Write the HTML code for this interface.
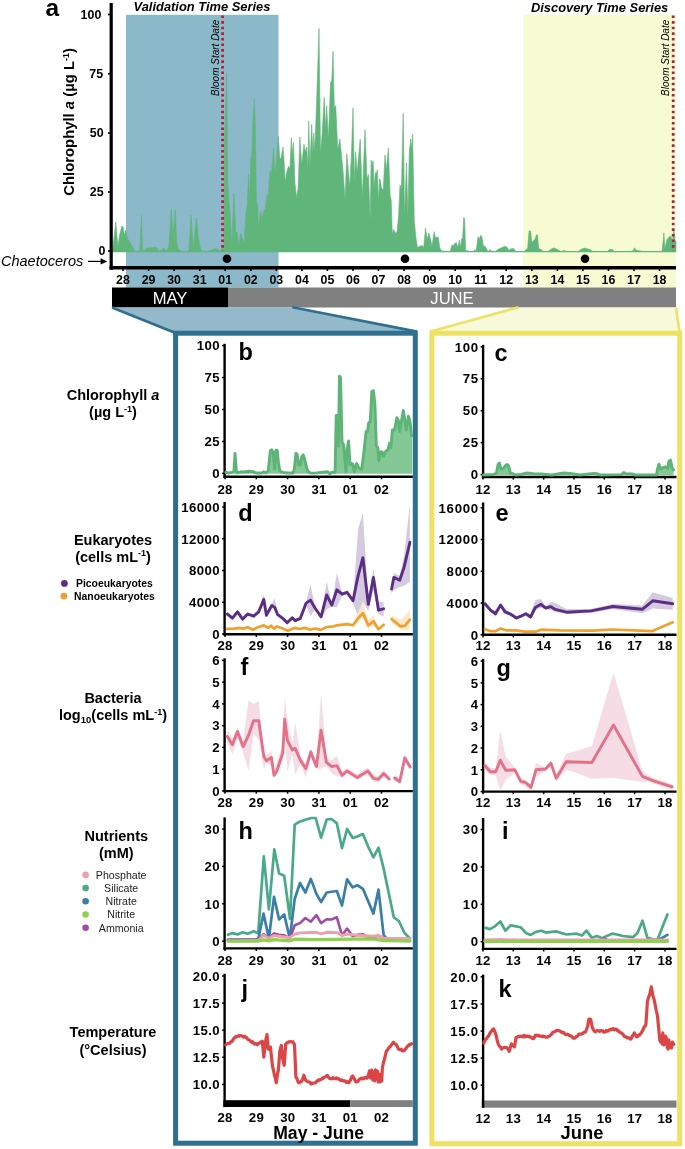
<!DOCTYPE html>
<html><head><meta charset="utf-8"><style>
html,body{margin:0;padding:0;background:#fff;}
body{width:685px;height:1149px;overflow:hidden;font-family:"Liberation Sans", sans-serif;}
svg{display:block;will-change:transform;}
</style></head><body>
<svg width="685" height="1149" viewBox="0 0 685 1149" font-family='"Liberation Sans", sans-serif'>
<rect width="685" height="1149" fill="#fff"/>
<rect x="126" y="14.8" width="152.5" height="272.7" fill="#8bb9c9"/>
<rect x="523" y="14.8" width="153" height="272.7" fill="#f6fbd2"/>
<polygon points="112.5,251.5 113.0,246.5 115.8,222.0 117.9,246.5 119.6,235.0 121.9,226.0 123.1,227.0 124.4,235.0 125.8,230.0 127.5,238.6 131.0,243.9 133.6,249.0 135.4,251.4 139.8,251.0 141.5,215.3 142.6,251.4 145.0,250.0 146.8,248.3 152.0,247.7 155.5,247.0 157.3,249.0 159.0,251.4 164.3,248.0 165.7,251.4 168.7,247.4 171.3,208.8 173.0,235.0 175.3,209.7 176.6,242.0 178.3,249.0 180.0,250.0 181.8,251.4 188.8,251.4 191.1,215.3 193.2,249.0 194.6,234.0 196.4,217.6 198.5,238.6 200.2,247.4 202.0,251.4 208.0,251.0 215.0,248.8 217.7,249.0 219.5,251.4 222.0,249.0 223.9,245.6 224.3,145.0 226.6,73.0 227.8,181.8 228.7,199.0 230.4,216.7 231.7,248.0 233.9,193.0 235.7,232.0 237.4,233.0 238.8,248.0 240.5,233.0 244.1,243.4 245.9,214.0 247.3,204.6 248.6,174.0 249.4,204.6 250.8,157.6 251.7,156.4 252.7,125.0 254.3,99.0 255.3,125.0 256.4,202.2 257.6,204.6 258.4,228.1 260.6,211.1 262.3,218.7 263.5,211.1 265.3,209.3 266.8,195.2 268.2,195.2 270.0,170.5 271.5,174.0 273.5,148.2 275.0,174.0 276.6,158.8 278.4,136.4 279.7,157.6 281.1,158.8 282.9,147.0 283.7,155.2 285.2,182.3 286.4,172.9 288.5,166.4 289.9,168.2 291.4,137.6 292.3,155.2 293.4,142.3 295.0,183.4 296.6,197.5 298.1,188.1 299.9,137.0 301.7,164.6 304.0,144.1 305.2,151.7 306.7,147.0 307.9,168.2 308.7,121.2 310.0,166.0 311.7,124.4 312.8,153.7 313.8,132.8 314.8,151.6 316.9,93.0 319.0,28.4 320.5,153.7 322.2,132.8 324.2,97.3 325.7,128.6 326.7,105.6 328.4,139.0 330.5,82.7 331.8,80.6 333.0,51.3 334.3,107.7 335.7,105.6 337.8,149.5 339.9,139.0 343.0,170.4 345.1,199.6 346.8,153.7 348.3,170.4 349.7,187.0 351.4,155.8 353.0,107.7 354.5,183.0 355.6,151.6 357.2,172.5 360.2,139.0 362.3,197.5 365.0,129.7 367.0,178.7 368.5,174.6 370.2,220.5 371.1,159.9 372.1,165.5 373.1,160.6 374.2,189.0 375.3,172.4 376.3,173.8 377.4,169.6 378.4,201.7 379.5,178.7 380.5,180.8 381.4,187.7 383.2,190.5 385.0,155.0 386.4,169.6 388.4,148.0 390.2,196.1 391.2,200.3 392.3,233.7 393.7,229.5 395.8,233.7 397.2,231.0 398.6,215.6 400.0,185.0 401.4,189.0 403.2,113.2 404.6,215.6 406.5,162.7 407.9,215.6 409.3,151.5 410.7,139.0 411.5,148.7 412.6,134.1 414.3,221.2 416.0,237.9 417.4,247.6 419.5,246.2 422.3,245.5 423.7,247.6 425.5,228.1 427.1,239.3 428.8,233.0 429.9,236.5 432.0,246.2 434.1,231.6 435.5,237.9 436.9,237.2 438.3,237.2 439.7,247.6 441.6,251.0 450.2,251.5 451.8,245.2 453.1,245.8 455.1,243.2 456.4,242.6 457.7,247.8 459.4,240.0 460.4,247.8 461.7,238.6 462.6,239.3 463.7,217.6 464.6,218.2 465.6,250.4 467.6,250.7 469.6,251.5 473.5,251.5 474.8,249.8 476.1,251.0 478.1,236.6 479.4,239.3 480.7,235.3 481.8,236.6 483.4,245.8 485.3,246.5 487.3,250.4 488.6,251.5 489.9,249.4 491.2,251.0 495.2,251.5 498.5,249.1 505.0,246.2 507.0,247.2 509.0,250.4 510.3,248.9 513.6,248.5 514.9,250.4 516.2,251.5 524.1,251.5 526.7,249.1 527.6,249.0 529.1,231.0 530.7,231.0 531.7,242.6 534.0,240.3 535.2,239.1 536.4,234.8 537.5,235.0 538.7,248.5 541.0,249.6 543.4,251.5 548.0,251.5 550.4,249.6 553.9,247.9 557.4,249.6 560.9,251.5 564.4,250.5 566.7,251.5 578.4,251.5 580.7,249.6 584.2,248.1 590.0,249.6 593.0,251.5 607.4,251.5 609.3,249.4 612.4,249.6 614.3,251.5 631.0,251.5 633.5,250.3 634.5,247.8 636.0,250.3 639.7,250.8 642.8,251.5 662.0,251.5 663.3,239.7 663.9,232.9 664.8,248.4 667.0,239.7 668.9,237.2 670.7,236.0 672.6,241.0 673.8,228.5 675.0,241.0 676.0,241.0 676.0,251.5" fill="#60b57a" stroke="#60b57a" stroke-width="0.6" stroke-linejoin="round"/>
<line x1="112.5" y1="251.6" x2="676" y2="251.6" stroke="#60b57a" stroke-width="1.2"/>
<line x1="222.6" y1="15.5" x2="222.6" y2="251" stroke="#b3203c" stroke-width="2.8" stroke-dasharray="2.6 3"/>
<line x1="673.2" y1="15.5" x2="673.2" y2="251" stroke="#b3203c" stroke-width="2.8" stroke-dasharray="2.6 3"/>
<text x="218.8" y="57.8" font-size="10" font-weight="normal" font-style="italic" text-anchor="middle" fill="#000" transform="rotate(-90 218.8 57.8)">Bloom Start Date</text>
<text x="669.0" y="57.8" font-size="10" font-weight="normal" font-style="italic" text-anchor="middle" fill="#000" transform="rotate(-90 669.0 57.8)">Bloom Start Date</text>
<text x="202" y="11" font-size="12.9" font-weight="bold" font-style="italic" text-anchor="middle" fill="#000" >Validation Time Series</text>
<text x="599.6" y="12" font-size="12.9" font-weight="bold" font-style="italic" text-anchor="middle" fill="#000" >Discovery Time Series</text>
<line x1="111.2" y1="3" x2="111.2" y2="269.7" stroke="#000" stroke-width="3.2"/>
<line x1="109.6" y1="267.7" x2="676" y2="267.7" stroke="#000" stroke-width="3.4"/>
<line x1="108" y1="14.5" x2="111" y2="14.5" stroke="#000" stroke-width="1.6"/>
<text x="101.3" y="18.5" font-size="12.4" font-weight="bold" font-style="normal" text-anchor="end" fill="#000" >100</text>
<line x1="108" y1="73.8" x2="111" y2="73.8" stroke="#000" stroke-width="1.6"/>
<text x="103.1" y="77.7" font-size="12.4" font-weight="bold" font-style="normal" text-anchor="end" fill="#000" >75</text>
<line x1="108" y1="133" x2="111" y2="133" stroke="#000" stroke-width="1.6"/>
<text x="103.6" y="136.8" font-size="12.4" font-weight="bold" font-style="normal" text-anchor="end" fill="#000" >50</text>
<line x1="108" y1="192" x2="111" y2="192" stroke="#000" stroke-width="1.6"/>
<text x="103.6" y="195.8" font-size="12.4" font-weight="bold" font-style="normal" text-anchor="end" fill="#000" >25</text>
<line x1="108" y1="251" x2="111" y2="251" stroke="#000" stroke-width="1.6"/>
<text x="105.3" y="255.20000000000002" font-size="12.4" font-weight="bold" font-style="normal" text-anchor="end" fill="#000" >0</text>
<line x1="123.0" y1="268" x2="123.0" y2="271" stroke="#000" stroke-width="1.6"/>
<text x="123.0" y="283.6" font-size="12.4" font-weight="bold" font-style="normal" text-anchor="middle" fill="#000" >28</text>
<line x1="148.6" y1="268" x2="148.6" y2="271" stroke="#000" stroke-width="1.6"/>
<text x="148.6" y="283.6" font-size="12.4" font-weight="bold" font-style="normal" text-anchor="middle" fill="#000" >29</text>
<line x1="174.1" y1="268" x2="174.1" y2="271" stroke="#000" stroke-width="1.6"/>
<text x="174.1" y="283.6" font-size="12.4" font-weight="bold" font-style="normal" text-anchor="middle" fill="#000" >30</text>
<line x1="199.7" y1="268" x2="199.7" y2="271" stroke="#000" stroke-width="1.6"/>
<text x="199.7" y="283.6" font-size="12.4" font-weight="bold" font-style="normal" text-anchor="middle" fill="#000" >31</text>
<line x1="225.2" y1="268" x2="225.2" y2="271" stroke="#000" stroke-width="1.6"/>
<text x="225.2" y="283.6" font-size="12.4" font-weight="bold" font-style="normal" text-anchor="middle" fill="#000" >01</text>
<line x1="250.8" y1="268" x2="250.8" y2="271" stroke="#000" stroke-width="1.6"/>
<text x="250.8" y="283.6" font-size="12.4" font-weight="bold" font-style="normal" text-anchor="middle" fill="#000" >02</text>
<line x1="276.3" y1="268" x2="276.3" y2="271" stroke="#000" stroke-width="1.6"/>
<text x="276.3" y="283.6" font-size="12.4" font-weight="bold" font-style="normal" text-anchor="middle" fill="#000" >03</text>
<line x1="301.9" y1="268" x2="301.9" y2="271" stroke="#000" stroke-width="1.6"/>
<text x="301.9" y="283.6" font-size="12.4" font-weight="bold" font-style="normal" text-anchor="middle" fill="#000" >04</text>
<line x1="327.4" y1="268" x2="327.4" y2="271" stroke="#000" stroke-width="1.6"/>
<text x="327.4" y="283.6" font-size="12.4" font-weight="bold" font-style="normal" text-anchor="middle" fill="#000" >05</text>
<line x1="353.0" y1="268" x2="353.0" y2="271" stroke="#000" stroke-width="1.6"/>
<text x="353.0" y="283.6" font-size="12.4" font-weight="bold" font-style="normal" text-anchor="middle" fill="#000" >06</text>
<line x1="378.5" y1="268" x2="378.5" y2="271" stroke="#000" stroke-width="1.6"/>
<text x="378.5" y="283.6" font-size="12.4" font-weight="bold" font-style="normal" text-anchor="middle" fill="#000" >07</text>
<line x1="404.1" y1="268" x2="404.1" y2="271" stroke="#000" stroke-width="1.6"/>
<text x="404.1" y="283.6" font-size="12.4" font-weight="bold" font-style="normal" text-anchor="middle" fill="#000" >08</text>
<line x1="429.6" y1="268" x2="429.6" y2="271" stroke="#000" stroke-width="1.6"/>
<text x="429.6" y="283.6" font-size="12.4" font-weight="bold" font-style="normal" text-anchor="middle" fill="#000" >09</text>
<line x1="455.2" y1="268" x2="455.2" y2="271" stroke="#000" stroke-width="1.6"/>
<text x="455.2" y="283.6" font-size="12.4" font-weight="bold" font-style="normal" text-anchor="middle" fill="#000" >10</text>
<line x1="480.7" y1="268" x2="480.7" y2="271" stroke="#000" stroke-width="1.6"/>
<text x="480.7" y="283.6" font-size="12.4" font-weight="bold" font-style="normal" text-anchor="middle" fill="#000" >11</text>
<line x1="506.2" y1="268" x2="506.2" y2="271" stroke="#000" stroke-width="1.6"/>
<text x="506.2" y="283.6" font-size="12.4" font-weight="bold" font-style="normal" text-anchor="middle" fill="#000" >12</text>
<line x1="531.8" y1="268" x2="531.8" y2="271" stroke="#000" stroke-width="1.6"/>
<text x="531.8" y="283.6" font-size="12.4" font-weight="bold" font-style="normal" text-anchor="middle" fill="#000" >13</text>
<line x1="557.4" y1="268" x2="557.4" y2="271" stroke="#000" stroke-width="1.6"/>
<text x="557.4" y="283.6" font-size="12.4" font-weight="bold" font-style="normal" text-anchor="middle" fill="#000" >14</text>
<line x1="582.9" y1="268" x2="582.9" y2="271" stroke="#000" stroke-width="1.6"/>
<text x="582.9" y="283.6" font-size="12.4" font-weight="bold" font-style="normal" text-anchor="middle" fill="#000" >15</text>
<line x1="608.5" y1="268" x2="608.5" y2="271" stroke="#000" stroke-width="1.6"/>
<text x="608.5" y="283.6" font-size="12.4" font-weight="bold" font-style="normal" text-anchor="middle" fill="#000" >16</text>
<line x1="634.0" y1="268" x2="634.0" y2="271" stroke="#000" stroke-width="1.6"/>
<text x="634.0" y="283.6" font-size="12.4" font-weight="bold" font-style="normal" text-anchor="middle" fill="#000" >17</text>
<line x1="659.6" y1="268" x2="659.6" y2="271" stroke="#000" stroke-width="1.6"/>
<text x="659.6" y="283.6" font-size="12.4" font-weight="bold" font-style="normal" text-anchor="middle" fill="#000" >18</text>
<circle cx="227" cy="258.8" r="4.3" fill="#000"/>
<circle cx="405" cy="258.8" r="4.3" fill="#000"/>
<circle cx="585" cy="258.8" r="4.3" fill="#000"/>
<text x="1" y="265.5" font-size="14.5" font-weight="normal" font-style="italic" text-anchor="start" fill="#000" >Chaetoceros</text>
<line x1="88" y1="261.4" x2="104" y2="261.4" stroke="#000" stroke-width="1.2"/>
<polygon points="107.3,261.4 100.6,258.2 100.6,264.6" fill="#000"/>
<text x="45.5" y="15.8" font-size="24.5" font-weight="bold" font-style="normal" text-anchor="start" fill="#000" >a</text>
<text x="0" y="0" font-size="14.85" font-weight="bold" text-anchor="middle" transform="translate(73.5 121.9) rotate(-90)">Chlorophyll <tspan font-style="italic">a</tspan> (µg L<tspan font-size="9" dy="-5">-1</tspan><tspan dy="5">)</tspan></text>
<rect x="112" y="287.5" width="116" height="20" fill="#000"/>
<rect x="228" y="287.5" width="448" height="20" fill="#808080"/>
<text x="170" y="303.7" font-size="16.6" font-weight="normal" font-style="normal" text-anchor="middle" fill="#fff" >MAY</text>
<text x="452" y="303.7" font-size="16.6" font-weight="normal" font-style="normal" text-anchor="middle" fill="#fff" >JUNE</text>
<polygon points="112,307.5 292.4,307.5 417,332 175.5,333" fill="#93b9ca"/>
<line x1="112" y1="307.5" x2="175.5" y2="333" stroke="#2f6f8f" stroke-width="2.6"/>
<line x1="292.4" y1="307.3" x2="417" y2="331.6" stroke="#2f6f8f" stroke-width="2.6"/>
<polygon points="518.5,307.5 676,307.5 679.7,333 431,332" fill="#f6f9da"/>
<line x1="518.5" y1="307.3" x2="430.5" y2="331.6" stroke="#ede264" stroke-width="2.6"/>
<line x1="676" y1="307.5" x2="679.7" y2="333" stroke="#ede264" stroke-width="2.6"/>
<rect x="175.6" y="333.2" width="239.7" height="810" fill="#fff" stroke="#2f6f8f" stroke-width="5"/>
<rect x="431.9" y="333.2" width="247.8" height="810.5" fill="#fff" stroke="#ede264" stroke-width="5"/>
<line x1="224.6" y1="343.8" x2="224.6" y2="477.9" stroke="#000" stroke-width="2.4"/>
<line x1="223.4" y1="476.7" x2="412.8" y2="476.7" stroke="#000" stroke-width="2.4"/>
<line x1="222.1" y1="345.59999999999997" x2="224.6" y2="345.59999999999997" stroke="#000" stroke-width="1.5"/>
<text x="220.0" y="350.3" font-size="13.2" font-weight="bold" font-style="normal" text-anchor="end" fill="#000" letter-spacing="0.4">100</text>
<line x1="222.1" y1="377.54999999999995" x2="224.6" y2="377.54999999999995" stroke="#000" stroke-width="1.5"/>
<text x="220.0" y="382.2" font-size="13.2" font-weight="bold" font-style="normal" text-anchor="end" fill="#000" letter-spacing="0.4">75</text>
<line x1="222.1" y1="409.5" x2="224.6" y2="409.5" stroke="#000" stroke-width="1.5"/>
<text x="220.0" y="414.2" font-size="13.2" font-weight="bold" font-style="normal" text-anchor="end" fill="#000" letter-spacing="0.4">50</text>
<line x1="222.1" y1="441.45" x2="224.6" y2="441.45" stroke="#000" stroke-width="1.5"/>
<text x="220.0" y="446.1" font-size="13.2" font-weight="bold" font-style="normal" text-anchor="end" fill="#000" letter-spacing="0.4">25</text>
<line x1="222.1" y1="473.4" x2="224.6" y2="473.4" stroke="#000" stroke-width="1.5"/>
<text x="220.0" y="478.1" font-size="13.2" font-weight="bold" font-style="normal" text-anchor="end" fill="#000" letter-spacing="0.4">0</text>
<line x1="225.0" y1="476.7" x2="225.0" y2="479.3" stroke="#000" stroke-width="1.5"/>
<text x="225.1" y="494.0" font-size="13.2" font-weight="bold" font-style="normal" text-anchor="middle" fill="#000" letter-spacing="0.2">28</text>
<line x1="256.3" y1="476.7" x2="256.3" y2="479.3" stroke="#000" stroke-width="1.5"/>
<text x="256.4" y="494.0" font-size="13.2" font-weight="bold" font-style="normal" text-anchor="middle" fill="#000" letter-spacing="0.2">29</text>
<line x1="287.6" y1="476.7" x2="287.6" y2="479.3" stroke="#000" stroke-width="1.5"/>
<text x="287.7" y="494.0" font-size="13.2" font-weight="bold" font-style="normal" text-anchor="middle" fill="#000" letter-spacing="0.2">30</text>
<line x1="318.9" y1="476.7" x2="318.9" y2="479.3" stroke="#000" stroke-width="1.5"/>
<text x="319.0" y="494.0" font-size="13.2" font-weight="bold" font-style="normal" text-anchor="middle" fill="#000" letter-spacing="0.2">31</text>
<line x1="350.2" y1="476.7" x2="350.2" y2="479.3" stroke="#000" stroke-width="1.5"/>
<text x="350.3" y="494.0" font-size="13.2" font-weight="bold" font-style="normal" text-anchor="middle" fill="#000" letter-spacing="0.2">01</text>
<line x1="381.5" y1="476.7" x2="381.5" y2="479.3" stroke="#000" stroke-width="1.5"/>
<text x="381.6" y="494.0" font-size="13.2" font-weight="bold" font-style="normal" text-anchor="middle" fill="#000" letter-spacing="0.2">02</text>
<line x1="483.1" y1="344.8" x2="483.1" y2="478.2" stroke="#000" stroke-width="2.4"/>
<line x1="481.90000000000003" y1="477.0" x2="676.5" y2="477.0" stroke="#000" stroke-width="2.4"/>
<line x1="480.6" y1="346.79999999999995" x2="483.1" y2="346.79999999999995" stroke="#000" stroke-width="1.5"/>
<text x="478.9" y="351.5" font-size="13.2" font-weight="bold" font-style="normal" text-anchor="end" fill="#000" letter-spacing="0.75">100</text>
<line x1="480.6" y1="378.74999999999994" x2="483.1" y2="378.74999999999994" stroke="#000" stroke-width="1.5"/>
<text x="478.9" y="383.4" font-size="13.2" font-weight="bold" font-style="normal" text-anchor="end" fill="#000" letter-spacing="0.75">75</text>
<line x1="480.6" y1="410.7" x2="483.1" y2="410.7" stroke="#000" stroke-width="1.5"/>
<text x="478.9" y="415.4" font-size="13.2" font-weight="bold" font-style="normal" text-anchor="end" fill="#000" letter-spacing="0.75">50</text>
<line x1="480.6" y1="442.65" x2="483.1" y2="442.65" stroke="#000" stroke-width="1.5"/>
<text x="478.9" y="447.3" font-size="13.2" font-weight="bold" font-style="normal" text-anchor="end" fill="#000" letter-spacing="0.75">25</text>
<line x1="480.6" y1="474.59999999999997" x2="483.1" y2="474.59999999999997" stroke="#000" stroke-width="1.5"/>
<text x="478.9" y="479.3" font-size="13.2" font-weight="bold" font-style="normal" text-anchor="end" fill="#000" letter-spacing="0.75">0</text>
<line x1="483.0" y1="477.0" x2="483.0" y2="479.6" stroke="#000" stroke-width="1.5"/>
<text x="483.1" y="494.3" font-size="13.2" font-weight="bold" font-style="normal" text-anchor="middle" fill="#000" letter-spacing="0.2">12</text>
<line x1="513.3" y1="477.0" x2="513.3" y2="479.6" stroke="#000" stroke-width="1.5"/>
<text x="513.4" y="494.3" font-size="13.2" font-weight="bold" font-style="normal" text-anchor="middle" fill="#000" letter-spacing="0.2">13</text>
<line x1="543.7" y1="477.0" x2="543.7" y2="479.6" stroke="#000" stroke-width="1.5"/>
<text x="543.8" y="494.3" font-size="13.2" font-weight="bold" font-style="normal" text-anchor="middle" fill="#000" letter-spacing="0.2">14</text>
<line x1="574.0" y1="477.0" x2="574.0" y2="479.6" stroke="#000" stroke-width="1.5"/>
<text x="574.1" y="494.3" font-size="13.2" font-weight="bold" font-style="normal" text-anchor="middle" fill="#000" letter-spacing="0.2">15</text>
<line x1="604.3" y1="477.0" x2="604.3" y2="479.6" stroke="#000" stroke-width="1.5"/>
<text x="604.4" y="494.3" font-size="13.2" font-weight="bold" font-style="normal" text-anchor="middle" fill="#000" letter-spacing="0.2">16</text>
<line x1="634.6" y1="477.0" x2="634.6" y2="479.6" stroke="#000" stroke-width="1.5"/>
<text x="634.8" y="494.3" font-size="13.2" font-weight="bold" font-style="normal" text-anchor="middle" fill="#000" letter-spacing="0.2">17</text>
<line x1="665.0" y1="477.0" x2="665.0" y2="479.6" stroke="#000" stroke-width="1.5"/>
<text x="665.1" y="494.3" font-size="13.2" font-weight="bold" font-style="normal" text-anchor="middle" fill="#000" letter-spacing="0.2">18</text>
<text x="238.5" y="360" font-size="23.5" font-weight="bold" font-style="normal" text-anchor="start" fill="#000" >b</text>
<text x="494.5" y="360.5" font-size="23.5" font-weight="bold" font-style="normal" text-anchor="start" fill="#000" >c</text>
<polygon points="225.8,473.8 225.8,472.4 228.8,473.0 231.7,472.4 233.9,471.5 235.0,453.4 236.4,471.0 237.5,473.0 241.2,471.7 243.4,472.0 249.2,471.2 253.6,471.7 255.8,473.0 262.3,473.0 263.8,471.7 266.0,473.0 268.2,471.0 270.4,450.5 271.8,449.8 273.3,453.4 274.7,468.8 275.8,450.5 277.2,450.5 278.4,462.2 279.9,471.0 282.8,472.4 287.2,473.0 293.0,473.0 294.5,468.0 295.9,453.4 297.1,454.0 298.8,465.0 300.3,465.0 301.8,456.4 303.2,454.9 304.7,459.3 306.9,468.8 308.3,471.7 310.5,473.0 315.0,473.1 327.4,471.7 329.6,473.6 332.5,472.1 335.1,472.4 336.2,415.5 337.2,415.5 338.4,446.1 339.5,376.1 340.5,377.5 342.0,441.8 343.5,444.7 346.0,471.7 347.1,449.0 348.6,441.0 350.0,465.1 351.5,463.6 353.0,464.4 354.4,471.7 356.6,463.6 358.8,468.0 361.7,469.5 363.9,452.0 366.1,431.5 367.6,431.5 368.7,422.8 370.2,422.0 371.9,391.4 373.4,390.7 374.9,403.8 376.3,446.1 377.8,447.6 378.9,460.7 380.4,452.0 382.2,452.0 383.6,456.4 385.8,451.2 388.0,449.8 389.5,443.2 390.9,447.6 392.4,430.0 394.6,430.0 396.8,417.7 398.2,419.9 399.7,431.5 401.4,421.3 403.3,410.4 404.8,419.9 406.2,430.0 408.4,416.2 409.9,420.6 411.6,435.9 412.3,435.9 412.3,473.8" fill="#84c896"/>
<polyline points="225.8,472.4 228.8,473.0 231.7,472.4 233.9,471.5 235.0,453.4 236.4,471.0 237.5,473.0 241.2,471.7 243.4,472.0 249.2,471.2 253.6,471.7 255.8,473.0 262.3,473.0 263.8,471.7 266.0,473.0 268.2,471.0 270.4,450.5 271.8,449.8 273.3,453.4 274.7,468.8 275.8,450.5 277.2,450.5 278.4,462.2 279.9,471.0 282.8,472.4 287.2,473.0 293.0,473.0 294.5,468.0 295.9,453.4 297.1,454.0 298.8,465.0 300.3,465.0 301.8,456.4 303.2,454.9 304.7,459.3 306.9,468.8 308.3,471.7 310.5,473.0 315.0,473.1 327.4,471.7 329.6,473.6 332.5,472.1 335.1,472.4 336.2,415.5 337.2,415.5 338.4,446.1 339.5,376.1 340.5,377.5 342.0,441.8 343.5,444.7 346.0,471.7 347.1,449.0 348.6,441.0 350.0,465.1 351.5,463.6 353.0,464.4 354.4,471.7 356.6,463.6 358.8,468.0 361.7,469.5 363.9,452.0 366.1,431.5 367.6,431.5 368.7,422.8 370.2,422.0 371.9,391.4 373.4,390.7 374.9,403.8 376.3,446.1 377.8,447.6 378.9,460.7 380.4,452.0 382.2,452.0 383.6,456.4 385.8,451.2 388.0,449.8 389.5,443.2 390.9,447.6 392.4,430.0 394.6,430.0 396.8,417.7 398.2,419.9 399.7,431.5 401.4,421.3 403.3,410.4 404.8,419.9 406.2,430.0 408.4,416.2 409.9,420.6 411.6,435.9" fill="none" stroke="#5db477" stroke-width="2.9" stroke-linejoin="round" stroke-linecap="round" />
<polygon points="483.4,475.2 483.4,475.0 493.4,474.5 496.5,473.0 498.0,464.5 499.5,463.0 501.0,469.1 503.4,468.4 505.7,465.3 507.2,464.5 508.7,466.0 510.3,473.0 512.6,473.7 515.6,475.0 521.0,474.5 527.1,473.0 533.2,473.7 540.9,474.0 551.6,475.0 557.8,474.0 563.9,473.0 570.0,473.5 580.0,475.0 593.8,473.4 596.9,473.7 600.0,475.0 621.4,474.6 623.7,472.5 626.0,473.7 632.1,474.0 635.2,475.0 656.6,475.0 657.4,469.1 659.0,464.2 660.5,469.1 662.8,467.6 665.8,466.8 667.7,468.4 668.9,461.5 670.4,460.0 672.0,467.6 673.5,469.9 673.5,475.2" fill="#84c896"/>
<polyline points="483.4,475.0 493.4,474.5 496.5,473.0 498.0,464.5 499.5,463.0 501.0,469.1 503.4,468.4 505.7,465.3 507.2,464.5 508.7,466.0 510.3,473.0 512.6,473.7 515.6,475.0 521.0,474.5 527.1,473.0 533.2,473.7 540.9,474.0 551.6,475.0 557.8,474.0 563.9,473.0 570.0,473.5 580.0,475.0 593.8,473.4 596.9,473.7 600.0,475.0 621.4,474.6 623.7,472.5 626.0,473.7 632.1,474.0 635.2,475.0 656.6,475.0 657.4,469.1 659.0,464.2 660.5,469.1 662.8,467.6 665.8,466.8 667.7,468.4 668.9,461.5 670.4,460.0 672.0,467.6 673.5,469.9" fill="none" stroke="#5db477" stroke-width="2.9" stroke-linejoin="round" stroke-linecap="round" />
<line x1="224.6" y1="502" x2="224.6" y2="635.5" stroke="#000" stroke-width="2.4"/>
<line x1="223.4" y1="634.3" x2="412.8" y2="634.3" stroke="#000" stroke-width="2.4"/>
<line x1="222.1" y1="507.0" x2="224.6" y2="507.0" stroke="#000" stroke-width="1.5"/>
<text x="220.0" y="511.7" font-size="13.2" font-weight="bold" font-style="normal" text-anchor="end" fill="#000" letter-spacing="0.4">16000</text>
<line x1="222.1" y1="538.75" x2="224.6" y2="538.75" stroke="#000" stroke-width="1.5"/>
<text x="220.0" y="543.5" font-size="13.2" font-weight="bold" font-style="normal" text-anchor="end" fill="#000" letter-spacing="0.4">12000</text>
<line x1="222.1" y1="570.5" x2="224.6" y2="570.5" stroke="#000" stroke-width="1.5"/>
<text x="220.0" y="575.2" font-size="13.2" font-weight="bold" font-style="normal" text-anchor="end" fill="#000" letter-spacing="0.4">8000</text>
<line x1="222.1" y1="602.25" x2="224.6" y2="602.25" stroke="#000" stroke-width="1.5"/>
<text x="220.0" y="607.0" font-size="13.2" font-weight="bold" font-style="normal" text-anchor="end" fill="#000" letter-spacing="0.4">4000</text>
<line x1="222.1" y1="634.0" x2="224.6" y2="634.0" stroke="#000" stroke-width="1.5"/>
<text x="220.0" y="638.7" font-size="13.2" font-weight="bold" font-style="normal" text-anchor="end" fill="#000" letter-spacing="0.4">0</text>
<line x1="225.0" y1="634.3" x2="225.0" y2="636.9" stroke="#000" stroke-width="1.5"/>
<text x="225.1" y="649.7" font-size="13.2" font-weight="bold" font-style="normal" text-anchor="middle" fill="#000" letter-spacing="0.2">28</text>
<line x1="256.3" y1="634.3" x2="256.3" y2="636.9" stroke="#000" stroke-width="1.5"/>
<text x="256.4" y="649.7" font-size="13.2" font-weight="bold" font-style="normal" text-anchor="middle" fill="#000" letter-spacing="0.2">29</text>
<line x1="287.6" y1="634.3" x2="287.6" y2="636.9" stroke="#000" stroke-width="1.5"/>
<text x="287.7" y="649.7" font-size="13.2" font-weight="bold" font-style="normal" text-anchor="middle" fill="#000" letter-spacing="0.2">30</text>
<line x1="318.9" y1="634.3" x2="318.9" y2="636.9" stroke="#000" stroke-width="1.5"/>
<text x="319.0" y="649.7" font-size="13.2" font-weight="bold" font-style="normal" text-anchor="middle" fill="#000" letter-spacing="0.2">31</text>
<line x1="350.2" y1="634.3" x2="350.2" y2="636.9" stroke="#000" stroke-width="1.5"/>
<text x="350.3" y="649.7" font-size="13.2" font-weight="bold" font-style="normal" text-anchor="middle" fill="#000" letter-spacing="0.2">01</text>
<line x1="381.5" y1="634.3" x2="381.5" y2="636.9" stroke="#000" stroke-width="1.5"/>
<text x="381.6" y="649.7" font-size="13.2" font-weight="bold" font-style="normal" text-anchor="middle" fill="#000" letter-spacing="0.2">02</text>
<line x1="483.1" y1="502.5" x2="483.1" y2="636.0" stroke="#000" stroke-width="2.4"/>
<line x1="481.90000000000003" y1="634.8" x2="676.5" y2="634.8" stroke="#000" stroke-width="2.4"/>
<line x1="480.6" y1="507.8" x2="483.1" y2="507.8" stroke="#000" stroke-width="1.5"/>
<text x="478.9" y="512.5" font-size="13.2" font-weight="bold" font-style="normal" text-anchor="end" fill="#000" letter-spacing="0.75">16000</text>
<line x1="480.6" y1="539.55" x2="483.1" y2="539.55" stroke="#000" stroke-width="1.5"/>
<text x="478.9" y="544.2" font-size="13.2" font-weight="bold" font-style="normal" text-anchor="end" fill="#000" letter-spacing="0.75">12000</text>
<line x1="480.6" y1="571.3" x2="483.1" y2="571.3" stroke="#000" stroke-width="1.5"/>
<text x="478.9" y="576.0" font-size="13.2" font-weight="bold" font-style="normal" text-anchor="end" fill="#000" letter-spacing="0.75">8000</text>
<line x1="480.6" y1="603.05" x2="483.1" y2="603.05" stroke="#000" stroke-width="1.5"/>
<text x="478.9" y="607.8" font-size="13.2" font-weight="bold" font-style="normal" text-anchor="end" fill="#000" letter-spacing="0.75">4000</text>
<line x1="480.6" y1="634.8" x2="483.1" y2="634.8" stroke="#000" stroke-width="1.5"/>
<text x="478.9" y="639.5" font-size="13.2" font-weight="bold" font-style="normal" text-anchor="end" fill="#000" letter-spacing="0.75">0</text>
<line x1="483.0" y1="634.8" x2="483.0" y2="637.4" stroke="#000" stroke-width="1.5"/>
<text x="483.1" y="650.2" font-size="13.2" font-weight="bold" font-style="normal" text-anchor="middle" fill="#000" letter-spacing="0.2">12</text>
<line x1="513.3" y1="634.8" x2="513.3" y2="637.4" stroke="#000" stroke-width="1.5"/>
<text x="513.4" y="650.2" font-size="13.2" font-weight="bold" font-style="normal" text-anchor="middle" fill="#000" letter-spacing="0.2">13</text>
<line x1="543.7" y1="634.8" x2="543.7" y2="637.4" stroke="#000" stroke-width="1.5"/>
<text x="543.8" y="650.2" font-size="13.2" font-weight="bold" font-style="normal" text-anchor="middle" fill="#000" letter-spacing="0.2">14</text>
<line x1="574.0" y1="634.8" x2="574.0" y2="637.4" stroke="#000" stroke-width="1.5"/>
<text x="574.1" y="650.2" font-size="13.2" font-weight="bold" font-style="normal" text-anchor="middle" fill="#000" letter-spacing="0.2">15</text>
<line x1="604.3" y1="634.8" x2="604.3" y2="637.4" stroke="#000" stroke-width="1.5"/>
<text x="604.4" y="650.2" font-size="13.2" font-weight="bold" font-style="normal" text-anchor="middle" fill="#000" letter-spacing="0.2">16</text>
<line x1="634.6" y1="634.8" x2="634.6" y2="637.4" stroke="#000" stroke-width="1.5"/>
<text x="634.8" y="650.2" font-size="13.2" font-weight="bold" font-style="normal" text-anchor="middle" fill="#000" letter-spacing="0.2">17</text>
<line x1="665.0" y1="634.8" x2="665.0" y2="637.4" stroke="#000" stroke-width="1.5"/>
<text x="665.1" y="650.2" font-size="13.2" font-weight="bold" font-style="normal" text-anchor="middle" fill="#000" letter-spacing="0.2">18</text>
<text x="238.2" y="520.6" font-size="23.5" font-weight="bold" font-style="normal" text-anchor="start" fill="#000" >d</text>
<text x="495.5" y="520.6" font-size="23.5" font-weight="bold" font-style="normal" text-anchor="start" fill="#000" >e</text>
<polygon points="227.3,612.4 232.4,616.5 237.5,610.2 242.6,617.5 247.7,612.4 253.6,614.6 258.7,610.2 263.8,595.0 266.4,613.6 271.8,603.9 274.7,598.0 277.7,613.1 282.8,616.8 287.2,621.2 292.3,616.1 295.2,619.0 300.3,616.8 306.1,601.5 310.5,584.8 315.0,606.4 321.1,615.2 326.7,581.8 331.8,603.5 336.9,573.0 342.0,592.6 347.1,590.7 353.0,599.1 358.1,529.2 362.9,513.1 368.3,600.7 373.4,568.6 378.5,602.0 383.6,602.2 383.6,616.8 378.5,613.9 373.4,590.5 368.3,611.0 362.9,602.0 358.1,616.8 353.0,602.3 347.1,593.9 342.0,595.8 336.9,607.3 331.8,606.7 326.7,609.5 321.1,618.4 315.0,609.6 310.5,616.0 306.1,604.7 300.3,620.0 295.2,622.2 292.3,619.3 287.2,624.4 282.8,620.0 277.7,616.3 274.7,609.0 271.8,607.1 266.4,616.8 263.8,603.0 258.7,613.4 253.6,617.8 247.7,615.6 242.6,620.7 237.5,613.4 232.4,619.7 227.3,615.6" fill="#d5cbe0" fill-opacity="1" stroke="none"/>
<polygon points="391.6,584.7 393.8,573.0 399.7,575.9 404.1,555.5 409.9,504.4 409.9,581.8 404.1,586.1 399.7,586.9 393.8,590.0 391.6,593.4" fill="#d5cbe0" fill-opacity="1" stroke="none"/>
<polygon points="227.3,627.9 234.6,627.6 239.0,626.9 243.4,627.6 247.7,626.2 252.8,628.8 258.0,626.2 263.8,624.4 268.2,626.9 271.1,624.7 274.0,627.6 276.9,625.4 282.8,627.6 287.9,629.8 294.5,626.9 299.6,628.0 304.7,626.9 310.5,628.8 315.0,627.5 320.8,628.9 326.7,626.0 331.8,625.7 336.9,624.3 347.1,623.1 353.0,624.3 358.1,612.0 362.9,602.0 368.3,620.0 373.4,615.0 378.5,628.2 383.6,623.8 383.6,625.8 378.5,630.2 373.4,626.0 368.3,630.0 362.9,618.0 358.1,622.0 353.0,626.3 347.1,625.1 336.9,626.3 331.8,627.7 326.7,628.0 320.8,630.9 315.0,629.5 310.5,630.8 304.7,628.9 299.6,630.0 294.5,628.9 287.9,631.8 282.8,629.6 276.9,627.4 274.0,629.6 271.1,626.7 268.2,628.9 263.8,626.4 258.0,628.2 252.8,630.8 247.7,628.2 243.4,629.6 239.0,628.9 234.6,629.6 227.3,629.9" fill="#f9e7c4" fill-opacity="0.9" stroke="none"/>
<polygon points="391.6,615.0 400.4,620.0 404.8,616.0 409.9,609.5 409.9,630.0 404.8,630.0 400.4,630.0 391.6,623.0" fill="#f9e7c4" fill-opacity="0.9" stroke="none"/>
<polygon points="485.0,601.0 490.7,609.2 495.5,610.0 500.6,603.8 505.0,608.0 510.7,613.0 516.4,616.0 521.1,614.9 525.8,612.6 530.6,614.0 535.3,600.0 541.0,599.0 545.8,606.9 550.5,602.0 555.3,603.0 566.4,609.0 591.1,609.0 612.9,604.0 642.3,605.5 652.7,592.3 672.7,598.0 672.7,609.7 652.7,608.4 642.3,613.2 612.9,609.0 591.1,613.0 566.4,614.0 555.3,612.0 550.5,610.0 545.8,609.3 541.0,608.0 535.3,610.0 530.6,619.0 525.8,615.0 521.1,617.3 516.4,620.0 510.7,615.4 505.0,614.0 500.6,606.2 495.5,617.0 490.7,611.6 485.0,606.0" fill="#d5cbe0" fill-opacity="1" stroke="none"/>
<polyline points="227.3,628.9 234.6,628.6 239.0,627.9 243.4,628.6 247.7,627.2 252.8,629.8 258.0,627.2 263.8,625.4 268.2,627.9 271.1,625.7 274.0,628.6 276.9,626.4 282.8,628.6 287.9,630.8 294.5,627.9 299.6,629.0 304.7,627.9 310.5,629.8 315.0,628.5 320.8,629.9 326.7,627.0 331.8,626.7 336.9,625.3 347.1,624.1 353.0,625.3 358.1,618.2 362.9,613.1 368.3,625.5 373.4,621.2 378.5,629.2 383.6,624.8" fill="none" stroke="#efa02d" stroke-width="2.7" stroke-linejoin="round" stroke-linecap="round" />
<polyline points="391.6,619.0 400.4,626.3 404.8,625.8 409.9,619.7" fill="none" stroke="#efa02d" stroke-width="2.7" stroke-linejoin="round" stroke-linecap="round" />
<polyline points="227.3,614.0 232.4,618.1 237.5,611.8 242.6,619.1 247.7,614.0 253.6,616.2 258.7,611.8 263.8,599.4 266.4,615.2 271.8,605.5 274.7,607.4 277.7,614.7 282.8,618.4 287.2,622.8 292.3,617.7 295.2,620.6 300.3,618.4 306.1,603.1 310.5,600.1 315.0,608.0 321.1,616.8 326.7,594.9 331.8,605.1 336.9,589.8 342.0,594.2 347.1,592.3 353.0,600.7 358.1,575.9 362.9,557.7 368.3,604.4 373.4,577.4 378.5,610.2 383.6,608.8" fill="none" stroke="#5c2d84" stroke-width="2.9" stroke-linejoin="round" stroke-linecap="round" />
<polyline points="391.6,589.0 393.8,577.4 399.7,580.3 404.1,567.2 409.9,542.3" fill="none" stroke="#5c2d84" stroke-width="2.9" stroke-linejoin="round" stroke-linecap="round" />
<polyline points="485.0,629.3 490.7,631.2 495.5,631.2 500.6,628.4 505.9,630.3 515.4,630.3 524.9,631.6 536.3,631.6 541.0,629.7 560.0,630.3 593.0,630.6 612.0,629.5 651.8,631.2 672.7,622.3" fill="none" stroke="#efa02d" stroke-width="2.7" stroke-linejoin="round" stroke-linecap="round" />
<polyline points="485.0,603.7 490.7,610.4 495.5,613.8 500.6,605.0 505.0,611.9 510.7,614.2 516.4,618.0 521.1,616.1 525.8,613.8 530.6,617.0 535.3,607.5 541.0,604.3 545.8,608.1 550.5,606.6 555.3,609.4 566.4,612.2 591.1,610.9 612.9,606.5 642.3,609.3 652.7,600.8 672.7,603.7" fill="none" stroke="#5c2d84" stroke-width="2.9" stroke-linejoin="round" stroke-linecap="round" />
<line x1="224.6" y1="658.3" x2="224.6" y2="792.3000000000001" stroke="#000" stroke-width="2.4"/>
<line x1="223.4" y1="791.1" x2="412.8" y2="791.1" stroke="#000" stroke-width="2.4"/>
<line x1="222.1" y1="660.4" x2="224.6" y2="660.4" stroke="#000" stroke-width="1.5"/>
<text x="220.0" y="665.1" font-size="13.2" font-weight="bold" font-style="normal" text-anchor="end" fill="#000" letter-spacing="0.4">6</text>
<line x1="222.1" y1="682.15" x2="224.6" y2="682.15" stroke="#000" stroke-width="1.5"/>
<text x="220.0" y="686.9" font-size="13.2" font-weight="bold" font-style="normal" text-anchor="end" fill="#000" letter-spacing="0.4">5</text>
<line x1="222.1" y1="703.9" x2="224.6" y2="703.9" stroke="#000" stroke-width="1.5"/>
<text x="220.0" y="708.6" font-size="13.2" font-weight="bold" font-style="normal" text-anchor="end" fill="#000" letter-spacing="0.4">4</text>
<line x1="222.1" y1="725.65" x2="224.6" y2="725.65" stroke="#000" stroke-width="1.5"/>
<text x="220.0" y="730.4" font-size="13.2" font-weight="bold" font-style="normal" text-anchor="end" fill="#000" letter-spacing="0.4">3</text>
<line x1="222.1" y1="747.4" x2="224.6" y2="747.4" stroke="#000" stroke-width="1.5"/>
<text x="220.0" y="752.1" font-size="13.2" font-weight="bold" font-style="normal" text-anchor="end" fill="#000" letter-spacing="0.4">2</text>
<line x1="222.1" y1="769.15" x2="224.6" y2="769.15" stroke="#000" stroke-width="1.5"/>
<text x="220.0" y="773.9" font-size="13.2" font-weight="bold" font-style="normal" text-anchor="end" fill="#000" letter-spacing="0.4">1</text>
<line x1="222.1" y1="790.9" x2="224.6" y2="790.9" stroke="#000" stroke-width="1.5"/>
<text x="220.0" y="795.6" font-size="13.2" font-weight="bold" font-style="normal" text-anchor="end" fill="#000" letter-spacing="0.4">0</text>
<line x1="225.0" y1="791.1" x2="225.0" y2="793.7" stroke="#000" stroke-width="1.5"/>
<text x="225.1" y="806.9" font-size="13.2" font-weight="bold" font-style="normal" text-anchor="middle" fill="#000" letter-spacing="0.2">28</text>
<line x1="256.3" y1="791.1" x2="256.3" y2="793.7" stroke="#000" stroke-width="1.5"/>
<text x="256.4" y="806.9" font-size="13.2" font-weight="bold" font-style="normal" text-anchor="middle" fill="#000" letter-spacing="0.2">29</text>
<line x1="287.6" y1="791.1" x2="287.6" y2="793.7" stroke="#000" stroke-width="1.5"/>
<text x="287.7" y="806.9" font-size="13.2" font-weight="bold" font-style="normal" text-anchor="middle" fill="#000" letter-spacing="0.2">30</text>
<line x1="318.9" y1="791.1" x2="318.9" y2="793.7" stroke="#000" stroke-width="1.5"/>
<text x="319.0" y="806.9" font-size="13.2" font-weight="bold" font-style="normal" text-anchor="middle" fill="#000" letter-spacing="0.2">31</text>
<line x1="350.2" y1="791.1" x2="350.2" y2="793.7" stroke="#000" stroke-width="1.5"/>
<text x="350.3" y="806.9" font-size="13.2" font-weight="bold" font-style="normal" text-anchor="middle" fill="#000" letter-spacing="0.2">01</text>
<line x1="381.5" y1="791.1" x2="381.5" y2="793.7" stroke="#000" stroke-width="1.5"/>
<text x="381.6" y="806.9" font-size="13.2" font-weight="bold" font-style="normal" text-anchor="middle" fill="#000" letter-spacing="0.2">02</text>
<line x1="483.1" y1="658.8" x2="483.1" y2="792.8000000000001" stroke="#000" stroke-width="2.4"/>
<line x1="481.90000000000003" y1="791.6" x2="676.5" y2="791.6" stroke="#000" stroke-width="2.4"/>
<line x1="480.6" y1="661.1" x2="483.1" y2="661.1" stroke="#000" stroke-width="1.5"/>
<text x="478.9" y="665.8" font-size="13.2" font-weight="bold" font-style="normal" text-anchor="end" fill="#000" letter-spacing="0.75">6</text>
<line x1="480.6" y1="682.85" x2="483.1" y2="682.85" stroke="#000" stroke-width="1.5"/>
<text x="478.9" y="687.6" font-size="13.2" font-weight="bold" font-style="normal" text-anchor="end" fill="#000" letter-spacing="0.75">5</text>
<line x1="480.6" y1="704.6" x2="483.1" y2="704.6" stroke="#000" stroke-width="1.5"/>
<text x="478.9" y="709.3" font-size="13.2" font-weight="bold" font-style="normal" text-anchor="end" fill="#000" letter-spacing="0.75">4</text>
<line x1="480.6" y1="726.35" x2="483.1" y2="726.35" stroke="#000" stroke-width="1.5"/>
<text x="478.9" y="731.1" font-size="13.2" font-weight="bold" font-style="normal" text-anchor="end" fill="#000" letter-spacing="0.75">3</text>
<line x1="480.6" y1="748.1" x2="483.1" y2="748.1" stroke="#000" stroke-width="1.5"/>
<text x="478.9" y="752.8" font-size="13.2" font-weight="bold" font-style="normal" text-anchor="end" fill="#000" letter-spacing="0.75">2</text>
<line x1="480.6" y1="769.85" x2="483.1" y2="769.85" stroke="#000" stroke-width="1.5"/>
<text x="478.9" y="774.6" font-size="13.2" font-weight="bold" font-style="normal" text-anchor="end" fill="#000" letter-spacing="0.75">1</text>
<line x1="480.6" y1="791.6" x2="483.1" y2="791.6" stroke="#000" stroke-width="1.5"/>
<text x="478.9" y="796.3" font-size="13.2" font-weight="bold" font-style="normal" text-anchor="end" fill="#000" letter-spacing="0.75">0</text>
<line x1="483.0" y1="791.6" x2="483.0" y2="794.2" stroke="#000" stroke-width="1.5"/>
<text x="483.1" y="807.3" font-size="13.2" font-weight="bold" font-style="normal" text-anchor="middle" fill="#000" letter-spacing="0.2">12</text>
<line x1="513.3" y1="791.6" x2="513.3" y2="794.2" stroke="#000" stroke-width="1.5"/>
<text x="513.4" y="807.3" font-size="13.2" font-weight="bold" font-style="normal" text-anchor="middle" fill="#000" letter-spacing="0.2">13</text>
<line x1="543.7" y1="791.6" x2="543.7" y2="794.2" stroke="#000" stroke-width="1.5"/>
<text x="543.8" y="807.3" font-size="13.2" font-weight="bold" font-style="normal" text-anchor="middle" fill="#000" letter-spacing="0.2">14</text>
<line x1="574.0" y1="791.6" x2="574.0" y2="794.2" stroke="#000" stroke-width="1.5"/>
<text x="574.1" y="807.3" font-size="13.2" font-weight="bold" font-style="normal" text-anchor="middle" fill="#000" letter-spacing="0.2">15</text>
<line x1="604.3" y1="791.6" x2="604.3" y2="794.2" stroke="#000" stroke-width="1.5"/>
<text x="604.4" y="807.3" font-size="13.2" font-weight="bold" font-style="normal" text-anchor="middle" fill="#000" letter-spacing="0.2">16</text>
<line x1="634.6" y1="791.6" x2="634.6" y2="794.2" stroke="#000" stroke-width="1.5"/>
<text x="634.8" y="807.3" font-size="13.2" font-weight="bold" font-style="normal" text-anchor="middle" fill="#000" letter-spacing="0.2">17</text>
<line x1="665.0" y1="791.6" x2="665.0" y2="794.2" stroke="#000" stroke-width="1.5"/>
<text x="665.1" y="807.3" font-size="13.2" font-weight="bold" font-style="normal" text-anchor="middle" fill="#000" letter-spacing="0.2">18</text>
<text x="240.5" y="675.3" font-size="23.5" font-weight="bold" font-style="normal" text-anchor="start" fill="#000" >f</text>
<text x="496.5" y="675.7" font-size="23.5" font-weight="bold" font-style="normal" text-anchor="start" fill="#000" >g</text>
<polygon points="227.3,729.4 232.4,738.2 237.5,727.2 243.1,741.0 248.5,700.2 253.6,703.9 258.7,701.0 263.8,752.8 266.4,755.0 271.4,751.0 274.0,770.0 282.8,745.0 284.7,697.3 287.4,719.2 292.3,745.0 295.2,722.1 300.3,755.7 305.8,764.0 310.8,748.4 316.4,762.0 321.1,692.9 326.4,758.6 331.8,760.0 336.9,755.7 342.0,771.0 347.1,768.0 357.3,774.0 367.8,767.4 373.4,775.0 378.5,776.0 383.6,770.0 389.2,776.0 389.2,781.0 383.6,776.0 378.5,782.0 373.4,782.0 367.8,774.0 357.3,780.0 347.1,774.0 342.0,777.0 336.9,776.1 331.8,773.2 326.4,766.0 321.1,768.8 316.4,768.8 310.8,757.2 305.8,777.6 300.3,764.5 295.2,774.7 292.3,754.2 287.4,771.8 284.7,730.9 282.8,760.0 274.0,776.0 271.4,766.0 266.4,763.0 263.8,768.8 258.7,739.6 253.6,733.8 248.5,770.3 243.1,752.8 237.5,738.2 232.4,754.2 227.3,742.6" fill="#f6dce4" fill-opacity="1" stroke="none"/>
<polygon points="394.6,775.0 399.7,778.0 404.8,754.0 410.2,764.0 410.2,770.0 404.8,761.0 399.7,784.0 394.6,781.0" fill="#f6dce4" fill-opacity="1" stroke="none"/>
<polygon points="485.0,762.0 490.3,768.0 495.7,768.0 500.3,730.7 505.7,756.8 514.9,767.5 520.7,778.0 531.0,784.0 536.0,762.9 545.5,767.5 550.9,760.0 556.2,775.0 566.2,753.7 575.0,751.5 591.9,745.9 613.5,672.8 642.4,770.8 648.0,775.0 652.1,777.5 672.2,784.0 672.2,790.0 652.1,783.0 648.0,781.0 642.4,782.0 613.5,778.0 591.9,778.8 575.0,772.4 566.2,769.8 556.2,781.0 550.9,766.0 545.5,771.0 536.0,776.7 531.0,790.0 520.7,784.0 514.9,773.0 505.7,779.8 500.3,790.5 495.7,775.0 490.3,775.0 485.0,769.0" fill="#f6dce4" fill-opacity="1" stroke="none"/>
<polyline points="227.3,736.4 232.4,744.7 237.5,731.6 243.1,746.6 248.5,735.3 253.6,720.7 258.7,720.7 263.8,756.4 266.4,760.8 271.4,757.4 274.0,775.4 276.9,771.0 282.8,752.8 284.7,719.2 287.4,740.4 292.3,749.9 295.2,748.4 300.3,760.1 305.8,768.8 310.8,752.0 316.4,766.6 321.1,730.1 326.4,762.3 331.8,766.6 336.9,765.6 342.0,775.4 347.1,771.0 357.3,777.6 367.8,771.0 373.4,778.3 378.5,779.3 383.6,773.5 389.2,779.0" fill="none" stroke="#e4718a" stroke-width="2.9" stroke-linejoin="round" stroke-linecap="round" />
<polyline points="394.6,778.0 399.7,781.7 404.8,757.9 410.2,767.1" fill="none" stroke="#e4718a" stroke-width="2.9" stroke-linejoin="round" stroke-linecap="round" />
<polyline points="485.0,765.7 490.3,771.8 495.7,771.8 500.3,760.2 505.7,770.3 514.9,769.8 520.7,781.3 525.6,782.5 531.0,787.4 536.0,769.8 545.5,769.0 550.9,763.2 556.2,778.2 566.2,761.7 591.9,762.5 613.5,725.0 642.4,776.4 652.1,780.4 672.2,786.9" fill="none" stroke="#e4718a" stroke-width="2.9" stroke-linejoin="round" stroke-linecap="round" />
<line x1="224.6" y1="817.4" x2="224.6" y2="949.6" stroke="#000" stroke-width="2.4"/>
<line x1="223.4" y1="948.4" x2="412.8" y2="948.4" stroke="#000" stroke-width="2.4"/>
<line x1="222.1" y1="829.0" x2="224.6" y2="829.0" stroke="#000" stroke-width="1.5"/>
<text x="220.0" y="833.7" font-size="13.2" font-weight="bold" font-style="normal" text-anchor="end" fill="#000" letter-spacing="0.4">30</text>
<line x1="222.1" y1="866.4000000000001" x2="224.6" y2="866.4000000000001" stroke="#000" stroke-width="1.5"/>
<text x="220.0" y="871.1" font-size="13.2" font-weight="bold" font-style="normal" text-anchor="end" fill="#000" letter-spacing="0.4">20</text>
<line x1="222.1" y1="903.8000000000001" x2="224.6" y2="903.8000000000001" stroke="#000" stroke-width="1.5"/>
<text x="220.0" y="908.5" font-size="13.2" font-weight="bold" font-style="normal" text-anchor="end" fill="#000" letter-spacing="0.4">10</text>
<line x1="222.1" y1="941.2" x2="224.6" y2="941.2" stroke="#000" stroke-width="1.5"/>
<text x="220.0" y="945.9" font-size="13.2" font-weight="bold" font-style="normal" text-anchor="end" fill="#000" letter-spacing="0.4">0</text>
<line x1="225.0" y1="948.4" x2="225.0" y2="951.0" stroke="#000" stroke-width="1.5"/>
<text x="225.1" y="964.8" font-size="13.2" font-weight="bold" font-style="normal" text-anchor="middle" fill="#000" letter-spacing="0.2">28</text>
<line x1="256.3" y1="948.4" x2="256.3" y2="951.0" stroke="#000" stroke-width="1.5"/>
<text x="256.4" y="964.8" font-size="13.2" font-weight="bold" font-style="normal" text-anchor="middle" fill="#000" letter-spacing="0.2">29</text>
<line x1="287.6" y1="948.4" x2="287.6" y2="951.0" stroke="#000" stroke-width="1.5"/>
<text x="287.7" y="964.8" font-size="13.2" font-weight="bold" font-style="normal" text-anchor="middle" fill="#000" letter-spacing="0.2">30</text>
<line x1="318.9" y1="948.4" x2="318.9" y2="951.0" stroke="#000" stroke-width="1.5"/>
<text x="319.0" y="964.8" font-size="13.2" font-weight="bold" font-style="normal" text-anchor="middle" fill="#000" letter-spacing="0.2">31</text>
<line x1="350.2" y1="948.4" x2="350.2" y2="951.0" stroke="#000" stroke-width="1.5"/>
<text x="350.3" y="964.8" font-size="13.2" font-weight="bold" font-style="normal" text-anchor="middle" fill="#000" letter-spacing="0.2">01</text>
<line x1="381.5" y1="948.4" x2="381.5" y2="951.0" stroke="#000" stroke-width="1.5"/>
<text x="381.6" y="964.8" font-size="13.2" font-weight="bold" font-style="normal" text-anchor="middle" fill="#000" letter-spacing="0.2">02</text>
<line x1="483.1" y1="818" x2="483.1" y2="950.1" stroke="#000" stroke-width="2.4"/>
<line x1="481.90000000000003" y1="948.9" x2="676.5" y2="948.9" stroke="#000" stroke-width="2.4"/>
<line x1="480.6" y1="829.5" x2="483.1" y2="829.5" stroke="#000" stroke-width="1.5"/>
<text x="478.9" y="834.2" font-size="13.2" font-weight="bold" font-style="normal" text-anchor="end" fill="#000" letter-spacing="0.75">30</text>
<line x1="480.6" y1="866.9000000000001" x2="483.1" y2="866.9000000000001" stroke="#000" stroke-width="1.5"/>
<text x="478.9" y="871.6" font-size="13.2" font-weight="bold" font-style="normal" text-anchor="end" fill="#000" letter-spacing="0.75">20</text>
<line x1="480.6" y1="904.3000000000001" x2="483.1" y2="904.3000000000001" stroke="#000" stroke-width="1.5"/>
<text x="478.9" y="909.0" font-size="13.2" font-weight="bold" font-style="normal" text-anchor="end" fill="#000" letter-spacing="0.75">10</text>
<line x1="480.6" y1="941.7" x2="483.1" y2="941.7" stroke="#000" stroke-width="1.5"/>
<text x="478.9" y="946.4" font-size="13.2" font-weight="bold" font-style="normal" text-anchor="end" fill="#000" letter-spacing="0.75">0</text>
<line x1="483.0" y1="948.9" x2="483.0" y2="951.5" stroke="#000" stroke-width="1.5"/>
<text x="483.1" y="965.1" font-size="13.2" font-weight="bold" font-style="normal" text-anchor="middle" fill="#000" letter-spacing="0.2">12</text>
<line x1="513.3" y1="948.9" x2="513.3" y2="951.5" stroke="#000" stroke-width="1.5"/>
<text x="513.4" y="965.1" font-size="13.2" font-weight="bold" font-style="normal" text-anchor="middle" fill="#000" letter-spacing="0.2">13</text>
<line x1="543.7" y1="948.9" x2="543.7" y2="951.5" stroke="#000" stroke-width="1.5"/>
<text x="543.8" y="965.1" font-size="13.2" font-weight="bold" font-style="normal" text-anchor="middle" fill="#000" letter-spacing="0.2">14</text>
<line x1="574.0" y1="948.9" x2="574.0" y2="951.5" stroke="#000" stroke-width="1.5"/>
<text x="574.1" y="965.1" font-size="13.2" font-weight="bold" font-style="normal" text-anchor="middle" fill="#000" letter-spacing="0.2">15</text>
<line x1="604.3" y1="948.9" x2="604.3" y2="951.5" stroke="#000" stroke-width="1.5"/>
<text x="604.4" y="965.1" font-size="13.2" font-weight="bold" font-style="normal" text-anchor="middle" fill="#000" letter-spacing="0.2">16</text>
<line x1="634.6" y1="948.9" x2="634.6" y2="951.5" stroke="#000" stroke-width="1.5"/>
<text x="634.8" y="965.1" font-size="13.2" font-weight="bold" font-style="normal" text-anchor="middle" fill="#000" letter-spacing="0.2">17</text>
<line x1="665.0" y1="948.9" x2="665.0" y2="951.5" stroke="#000" stroke-width="1.5"/>
<text x="665.1" y="965.1" font-size="13.2" font-weight="bold" font-style="normal" text-anchor="middle" fill="#000" letter-spacing="0.2">18</text>
<text x="238.5" y="838.5" font-size="23.5" font-weight="bold" font-style="normal" text-anchor="start" fill="#000" >h</text>
<text x="502" y="838.5" font-size="23.5" font-weight="bold" font-style="normal" text-anchor="start" fill="#000" >i</text>
<polyline points="228.0,934.8 232.4,933.1 237.5,934.4 242.6,932.3 247.7,933.8 253.6,931.2 258.2,933.4 263.8,856.4 268.9,909.3 274.3,849.4 279.1,873.5 284.2,875.7 290.0,918.8 294.7,824.6 299.6,821.7 306.1,819.5 311.2,818.0 315.7,818.0 321.1,837.7 326.7,819.5 331.4,819.0 336.9,823.4 342.0,848.2 347.1,829.0 352.7,838.0 357.3,836.6 362.9,834.1 367.8,845.8 373.4,857.4 378.5,847.7 383.6,868.4 393.8,917.3 398.9,921.0 404.3,932.6 409.9,938.5" fill="none" stroke="#4aa98a" stroke-width="2.7" stroke-linejoin="round" stroke-linecap="round" />
<polyline points="228.0,939.9 258.2,939.6 263.5,913.6 268.9,938.5 274.0,896.9 279.1,919.5 284.2,914.4 289.8,938.5 294.7,899.0 300.0,883.0 305.4,892.5 310.8,878.9 316.4,893.9 321.1,902.0 326.7,892.5 336.9,891.0 342.0,905.6 347.1,879.3 352.7,887.4 357.3,885.2 362.9,888.8 373.4,913.6 378.5,889.6 383.6,934.8 388.0,940.5 409.9,941.0" fill="none" stroke="#3a7fa8" stroke-width="2.7" stroke-linejoin="round" stroke-linecap="round" />
<polyline points="228.0,939.9 258.2,939.9 263.5,934.1 268.9,938.5 274.0,933.4 279.1,934.8 284.2,935.3 289.8,938.5 294.7,925.3 300.0,923.1 305.4,918.0 310.8,921.7 316.4,915.1 321.1,923.1 326.7,919.2 331.4,919.5 336.9,917.3 342.0,935.5 347.1,928.5 352.7,936.3 357.3,934.8 362.9,934.4 367.8,937.0 373.4,937.0 378.5,935.8 383.6,938.2 409.9,939.2" fill="none" stroke="#a04ca6" stroke-width="2.6" stroke-linejoin="round" stroke-linecap="round" />
<polyline points="228.0,941.2 258.2,940.5 263.5,935.3 268.9,938.2 274.0,935.5 289.8,937.7 294.7,934.1 300.0,932.9 316.4,932.3 321.1,933.8 326.7,932.3 336.9,932.6 342.0,935.5 347.1,934.1 357.3,935.3 373.4,936.3 378.5,935.5 383.6,938.2 409.9,938.8" fill="none" stroke="#eba0ab" stroke-width="2.9" stroke-linejoin="round" stroke-linecap="round" />
<polyline points="228.0,941.1 258.2,941.1 263.5,939.9 268.9,940.9 274.0,939.6 289.8,940.9 294.7,939.2 315.0,939.6 373.4,938.9 383.6,940.7 409.9,941.0" fill="none" stroke="#8fd04f" stroke-width="3.2" stroke-linejoin="round" stroke-linecap="round" />
<polyline points="485.4,927.9 490.0,929.1 495.3,926.1 500.4,921.5 505.3,930.7 510.7,925.3 516.0,926.4 520.6,927.3 526.0,933.0 530.6,934.9 535.9,931.9 541.3,930.7 545.9,932.6 555.9,931.4 566.6,934.5 576.6,933.7 581.9,935.6 586.4,930.6 592.0,937.8 596.9,936.0 602.2,938.3 606.8,936.0 612.2,933.7 616.8,934.5 622.9,936.0 632.9,937.2 637.5,932.9 642.5,920.7 647.4,937.8 652.0,939.0 657.4,939.8 667.4,914.5" fill="none" stroke="#4aa98a" stroke-width="2.7" stroke-linejoin="round" stroke-linecap="round" />
<polyline points="485.0,940.5 657.4,940.5 667.4,934.8" fill="none" stroke="#3a7fa8" stroke-width="2.7" stroke-linejoin="round" stroke-linecap="round" />
<polyline points="485.0,940.5 600.0,940.5 604.0,938.5 608.0,940.5 667.4,940.5" fill="none" stroke="#a04ca6" stroke-width="2.6" stroke-linejoin="round" stroke-linecap="round" />
<polyline points="485.0,940.0 500.0,939.5 515.0,940.0 667.4,940.0" fill="none" stroke="#eba0ab" stroke-width="2.9" stroke-linejoin="round" stroke-linecap="round" />
<polyline points="485.0,941.3 667.4,941.3" fill="none" stroke="#8fd04f" stroke-width="3.2" stroke-linejoin="round" stroke-linecap="round" />
<line x1="224.6" y1="973.8" x2="224.6" y2="1107.1" stroke="#000" stroke-width="2.4"/>
<line x1="222.1" y1="976.0000000000001" x2="224.6" y2="976.0000000000001" stroke="#000" stroke-width="1.5"/>
<text x="220.0" y="980.7" font-size="13.2" font-weight="bold" font-style="normal" text-anchor="end" fill="#000" letter-spacing="0.4">20.0</text>
<line x1="222.1" y1="1003.1000000000001" x2="224.6" y2="1003.1000000000001" stroke="#000" stroke-width="1.5"/>
<text x="220.0" y="1007.8" font-size="13.2" font-weight="bold" font-style="normal" text-anchor="end" fill="#000" letter-spacing="0.4">17.5</text>
<line x1="222.1" y1="1030.2" x2="224.6" y2="1030.2" stroke="#000" stroke-width="1.5"/>
<text x="220.0" y="1034.9" font-size="13.2" font-weight="bold" font-style="normal" text-anchor="end" fill="#000" letter-spacing="0.4">15.0</text>
<line x1="222.1" y1="1057.3000000000002" x2="224.6" y2="1057.3000000000002" stroke="#000" stroke-width="1.5"/>
<text x="220.0" y="1062.0" font-size="13.2" font-weight="bold" font-style="normal" text-anchor="end" fill="#000" letter-spacing="0.4">12.5</text>
<line x1="222.1" y1="1084.4" x2="224.6" y2="1084.4" stroke="#000" stroke-width="1.5"/>
<text x="220.0" y="1089.1" font-size="13.2" font-weight="bold" font-style="normal" text-anchor="end" fill="#000" letter-spacing="0.4">10.0</text>
<text x="225.1" y="1121.7" font-size="13.2" font-weight="bold" font-style="normal" text-anchor="middle" fill="#000" letter-spacing="0.2">28</text>
<text x="256.4" y="1121.7" font-size="13.2" font-weight="bold" font-style="normal" text-anchor="middle" fill="#000" letter-spacing="0.2">29</text>
<text x="287.7" y="1121.7" font-size="13.2" font-weight="bold" font-style="normal" text-anchor="middle" fill="#000" letter-spacing="0.2">30</text>
<text x="319.0" y="1121.7" font-size="13.2" font-weight="bold" font-style="normal" text-anchor="middle" fill="#000" letter-spacing="0.2">31</text>
<text x="350.3" y="1121.7" font-size="13.2" font-weight="bold" font-style="normal" text-anchor="middle" fill="#000" letter-spacing="0.2">01</text>
<text x="381.6" y="1121.7" font-size="13.2" font-weight="bold" font-style="normal" text-anchor="middle" fill="#000" letter-spacing="0.2">02</text>
<line x1="483.1" y1="974.6" x2="483.1" y2="1107.6" stroke="#000" stroke-width="2.4"/>
<line x1="480.6" y1="976.8000000000001" x2="483.1" y2="976.8000000000001" stroke="#000" stroke-width="1.5"/>
<text x="478.9" y="981.5" font-size="13.2" font-weight="bold" font-style="normal" text-anchor="end" fill="#000" letter-spacing="0.75">20.0</text>
<line x1="480.6" y1="1003.9000000000001" x2="483.1" y2="1003.9000000000001" stroke="#000" stroke-width="1.5"/>
<text x="478.9" y="1008.6" font-size="13.2" font-weight="bold" font-style="normal" text-anchor="end" fill="#000" letter-spacing="0.75">17.5</text>
<line x1="480.6" y1="1031.0" x2="483.1" y2="1031.0" stroke="#000" stroke-width="1.5"/>
<text x="478.9" y="1035.7" font-size="13.2" font-weight="bold" font-style="normal" text-anchor="end" fill="#000" letter-spacing="0.75">15.0</text>
<line x1="480.6" y1="1058.1000000000001" x2="483.1" y2="1058.1000000000001" stroke="#000" stroke-width="1.5"/>
<text x="478.9" y="1062.8" font-size="13.2" font-weight="bold" font-style="normal" text-anchor="end" fill="#000" letter-spacing="0.75">12.5</text>
<line x1="480.6" y1="1085.2" x2="483.1" y2="1085.2" stroke="#000" stroke-width="1.5"/>
<text x="478.9" y="1089.9" font-size="13.2" font-weight="bold" font-style="normal" text-anchor="end" fill="#000" letter-spacing="0.75">10.0</text>
<text x="483.1" y="1122.7" font-size="13.2" font-weight="bold" font-style="normal" text-anchor="middle" fill="#000" letter-spacing="0.2">12</text>
<text x="513.4" y="1122.7" font-size="13.2" font-weight="bold" font-style="normal" text-anchor="middle" fill="#000" letter-spacing="0.2">13</text>
<text x="543.8" y="1122.7" font-size="13.2" font-weight="bold" font-style="normal" text-anchor="middle" fill="#000" letter-spacing="0.2">14</text>
<text x="574.1" y="1122.7" font-size="13.2" font-weight="bold" font-style="normal" text-anchor="middle" fill="#000" letter-spacing="0.2">15</text>
<text x="604.4" y="1122.7" font-size="13.2" font-weight="bold" font-style="normal" text-anchor="middle" fill="#000" letter-spacing="0.2">16</text>
<text x="634.8" y="1122.7" font-size="13.2" font-weight="bold" font-style="normal" text-anchor="middle" fill="#000" letter-spacing="0.2">17</text>
<text x="665.1" y="1122.7" font-size="13.2" font-weight="bold" font-style="normal" text-anchor="middle" fill="#000" letter-spacing="0.2">18</text>
<rect x="223.4" y="1100.2" width="126.8" height="6.8" fill="#000"/>
<rect x="350.2" y="1100.2" width="62.6" height="6.8" fill="#808080"/>
<rect x="481.9" y="1100.5" width="194.6" height="7.2" fill="#808080"/>
<line x1="483.1" y1="1100" x2="483.1" y2="1107.7" stroke="#000" stroke-width="2.4"/>
<text x="241.5" y="997.3" font-size="23.5" font-weight="bold" font-style="normal" text-anchor="start" fill="#000" >j</text>
<text x="498.5" y="997.3" font-size="23.5" font-weight="bold" font-style="normal" text-anchor="start" fill="#000" >k</text>
<polyline points="225.8,1044.8 226.8,1044.1 227.8,1043.3 228.8,1043.4 229.8,1043.1 230.7,1041.8 231.7,1041.9 232.8,1040.1 233.9,1038.2 234.8,1037.5 235.7,1036.6 236.6,1036.9 237.5,1036.4 238.4,1035.6 239.3,1036.2 240.1,1035.6 241.0,1035.5 241.9,1036.1 242.8,1036.3 243.7,1037.2 244.5,1036.4 245.4,1036.8 246.3,1037.5 247.2,1038.4 248.1,1039.7 248.9,1039.8 249.8,1040.3 250.7,1041.2 251.7,1042.5 252.6,1041.8 253.6,1043.1 254.5,1044.1 255.4,1043.6 256.3,1043.8 257.2,1044.8 258.3,1043.4 259.4,1043.1 260.4,1042.2 261.3,1042.3 262.3,1041.2 263.8,1057.2 265.3,1043.4 266.1,1038.5 267.0,1034.6 268.2,1049.2 269.3,1048.2 270.4,1047.0 271.5,1057.1 272.6,1066.7 273.5,1070.5 274.4,1074.8 275.3,1078.1 276.2,1082.8 277.3,1075.5 278.4,1069.6 279.9,1050.7 281.3,1045.5 282.8,1059.4 284.2,1065.3 285.7,1044.1 286.7,1042.9 287.6,1042.9 288.6,1041.9 289.5,1041.8 290.4,1041.6 291.2,1042.0 292.1,1041.8 293.0,1041.9 294.5,1044.8 295.9,1076.9 296.9,1078.6 297.8,1081.3 298.8,1082.8 299.8,1082.6 300.8,1081.4 301.8,1081.3 302.9,1078.4 303.9,1075.2 305.4,1079.9 306.3,1080.5 307.2,1081.5 308.2,1081.8 309.1,1082.0 310.1,1082.3 311.0,1084.0 312.0,1083.9 313.0,1083.0 314.0,1083.0 315.0,1082.8 315.8,1082.7 316.7,1081.2 317.5,1081.2 318.3,1080.0 319.2,1080.4 320.0,1079.6 320.8,1079.5 321.6,1078.8 322.4,1078.8 323.2,1077.5 324.1,1077.6 324.9,1077.0 325.7,1076.5 326.5,1075.9 327.3,1075.5 328.3,1077.0 329.3,1078.2 330.3,1078.6 331.2,1078.5 332.1,1078.6 333.0,1077.6 333.8,1078.5 334.7,1078.3 335.6,1078.7 336.5,1077.9 337.4,1078.9 338.3,1078.6 339.3,1079.3 340.2,1080.2 341.1,1080.5 341.9,1080.0 342.8,1081.0 343.6,1080.8 344.5,1080.9 345.3,1081.1 346.2,1082.4 347.0,1081.7 347.9,1082.2 348.7,1082.8 349.7,1080.9 350.6,1080.0 351.6,1077.1 352.6,1076.0 353.6,1077.4 354.5,1079.1 355.4,1081.2 356.4,1082.1 357.3,1081.8 358.2,1081.1 359.2,1079.4 360.1,1078.9 361.0,1078.2 361.9,1078.0 362.7,1078.8 363.6,1078.9 364.5,1077.7 365.4,1077.7 366.2,1077.8 367.1,1078.2 368.5,1075.0 369.5,1071.0 370.5,1078.0 371.7,1070.0 372.8,1080.0 373.8,1072.0 374.8,1081.0 375.5,1069.8 376.5,1079.0 377.4,1071.0 378.3,1082.0 379.4,1074.0 380.3,1082.0 381.2,1076.0 381.7,1081.0 382.4,1067.5 383.5,1062.5 384.7,1058.3 385.5,1054.8 386.3,1051.4 387.2,1050.4 388.2,1048.7 389.2,1047.2 390.1,1046.8 391.0,1045.5 391.8,1044.3 392.6,1043.4 393.5,1042.2 394.4,1043.6 395.3,1044.0 396.2,1044.5 397.4,1046.8 398.5,1049.1 399.4,1049.5 400.3,1049.9 401.2,1049.2 402.1,1050.8 403.0,1050.9 403.9,1050.7 404.8,1050.1 405.8,1048.8 406.8,1047.1 407.7,1046.1 408.7,1045.4 409.6,1044.4 410.6,1044.6 411.6,1043.8" fill="none" stroke="#dc4545" stroke-width="3.2" stroke-linejoin="round" stroke-linecap="round" />
<polyline points="483.8,1043.0 484.7,1041.0 485.6,1039.6 486.6,1038.4 487.5,1037.0 488.4,1036.1 489.2,1034.7 490.1,1033.0 490.9,1031.8 491.8,1030.8 492.6,1029.5 493.5,1028.9 494.4,1030.8 495.2,1032.5 496.1,1035.3 497.2,1040.5 498.4,1044.5 499.4,1046.2 500.5,1047.0 501.5,1049.1 502.5,1048.1 503.5,1047.7 504.5,1047.3 505.5,1047.5 506.6,1047.5 507.6,1048.4 509.1,1051.4 510.2,1048.1 511.4,1043.8 512.4,1045.5 513.5,1045.7 514.5,1046.8 516.0,1037.6 517.0,1037.3 518.0,1036.5 518.9,1036.3 519.9,1036.6 520.8,1036.3 521.6,1036.1 522.5,1036.9 523.4,1035.8 524.3,1035.5 525.1,1036.8 526.0,1036.1 526.9,1036.4 527.8,1036.0 528.8,1036.8 529.7,1036.3 530.6,1037.2 531.6,1037.6 532.6,1038.7 533.6,1038.4 534.4,1037.4 535.2,1035.3 536.1,1035.7 536.9,1035.2 537.8,1035.4 538.7,1035.3 539.6,1036.3 540.4,1036.0 541.3,1036.1 542.2,1036.7 543.2,1036.2 544.1,1036.3 545.1,1036.9 546.1,1037.2 547.0,1037.2 548.0,1036.8 549.0,1036.1 549.9,1035.7 550.8,1034.9 551.8,1034.0 552.7,1032.4 553.6,1032.0 554.5,1031.8 555.4,1031.3 556.4,1030.5 557.3,1030.3 558.2,1030.7 559.1,1030.7 560.0,1031.0 561.0,1031.9 561.9,1032.7 562.8,1032.3 563.7,1032.6 564.5,1033.8 565.4,1034.3 566.3,1034.7 567.2,1034.2 568.0,1034.5 568.9,1035.3 569.8,1035.4 570.7,1035.8 571.6,1036.3 572.5,1037.4 573.4,1038.2 574.3,1038.1 575.2,1037.9 576.1,1036.7 577.0,1036.3 577.8,1035.9 578.7,1034.1 579.6,1034.1 580.4,1034.1 581.3,1034.1 582.1,1033.7 582.9,1033.3 583.7,1032.6 584.6,1031.9 585.4,1032.1 586.5,1029.5 587.7,1026.0 588.9,1019.1 589.8,1019.0 590.7,1019.5 592.3,1027.5 593.5,1029.9 594.6,1031.3 595.5,1031.8 596.5,1030.8 597.5,1030.6 598.4,1030.6 599.3,1031.4 600.1,1031.3 601.0,1030.6 601.9,1030.7 602.8,1030.9 603.6,1032.2 604.5,1031.8 605.4,1031.9 606.3,1030.5 607.3,1031.1 608.2,1030.9 609.1,1029.8 610.0,1029.9 610.8,1029.4 611.7,1029.6 612.5,1028.8 613.4,1028.6 614.3,1029.9 615.1,1029.3 616.0,1029.0 616.9,1029.7 617.8,1031.0 618.7,1030.9 619.6,1032.2 620.5,1032.7 621.4,1032.9 622.4,1033.7 623.5,1035.1 624.5,1036.7 625.4,1036.7 626.2,1037.0 627.1,1037.8 628.0,1037.7 628.9,1038.2 629.7,1038.1 630.6,1039.0 631.5,1038.1 632.5,1035.7 633.5,1034.4 634.4,1032.9 635.5,1035.1 636.7,1037.0 637.6,1036.8 638.5,1035.2 639.5,1035.2 640.4,1033.7 641.3,1032.9 642.2,1031.3 643.1,1029.6 644.1,1027.1 645.0,1026.1 645.9,1024.5 647.4,1001.5 648.5,997.6 649.7,994.6 651.3,986.9 652.8,995.3 654.0,999.2 655.1,1004.5 656.2,1010.3 657.4,1015.3 658.9,1030.6 659.8,1040.0 660.5,1042.1 661.4,1036.0 662.2,1044.0 662.8,1032.9 663.6,1045.0 664.6,1043.6 665.4,1036.0 666.6,1038.2 667.2,1047.0 668.1,1049.0 668.9,1040.0 669.6,1047.0 670.4,1043.6 671.5,1048.0 672.5,1042.0 673.8,1044.4" fill="none" stroke="#dc4545" stroke-width="3.2" stroke-linejoin="round" stroke-linecap="round" />
<text x="318.7" y="1138.5" font-size="17.6" font-weight="bold" font-style="normal" text-anchor="middle" fill="#000" >May - June</text>
<text x="582" y="1138.6" font-size="18.4" font-weight="bold" font-style="normal" text-anchor="middle" fill="#000" >June</text>
<text x="113" y="399.6" font-size="14.5" font-weight="bold" text-anchor="middle">Chlorophyll <tspan font-style="italic">a</tspan></text>
<text x="113" y="417.3" font-size="14.5" font-weight="bold" text-anchor="middle">(µg L<tspan font-size="9" dy="-5.5">-1</tspan><tspan dy="5.5">)</tspan></text>
<text x="113" y="544.5" font-size="14.5" font-weight="bold" text-anchor="middle">Eukaryotes</text>
<text x="113" y="561.5" font-size="14.5" font-weight="bold" text-anchor="middle">(cells mL<tspan font-size="9" dy="-5.5">-1</tspan><tspan dy="5.5">)</tspan></text>
<circle cx="64.4" cy="583.4" r="3.4" fill="#5c2d84"/>
<circle cx="63.9" cy="596.1" r="3.4" fill="#efa02d"/>
<text x="76" y="586.7" font-size="10.4" font-weight="bold" font-style="normal" text-anchor="start" fill="#000" >Picoeukaryotes</text>
<text x="74" y="599.9" font-size="10.4" font-weight="bold" font-style="normal" text-anchor="start" fill="#000" >Nanoeukaryotes</text>
<text x="113" y="702.6" font-size="14.5" font-weight="bold" text-anchor="middle">Bacteria</text>
<text x="113" y="720.2" font-size="14.5" font-weight="bold" text-anchor="middle">log<tspan font-size="9.5" dy="3">10</tspan><tspan dy="-3">(cells mL</tspan><tspan font-size="9" dy="-5.5">-1</tspan><tspan dy="5.5">)</tspan></text>
<text x="116.3" y="841" font-size="14.5" font-weight="bold" text-anchor="middle">Nutrients</text>
<text x="116.3" y="858.3" font-size="14.5" font-weight="bold" text-anchor="middle">(mM)</text>
<circle cx="85.6" cy="874.9" r="3.3" fill="#eba0ab"/>
<text x="121.2" y="878.7" font-size="10.6" font-weight="normal" font-style="normal" text-anchor="middle" fill="#222" >Phosphate</text>
<circle cx="85.6" cy="888.1" r="3.3" fill="#4aa98a"/>
<text x="121.2" y="891.9" font-size="10.6" font-weight="normal" font-style="normal" text-anchor="middle" fill="#222" >Silicate</text>
<circle cx="85.6" cy="901.3" r="3.3" fill="#3a7fa8"/>
<text x="121.2" y="905.1" font-size="10.6" font-weight="normal" font-style="normal" text-anchor="middle" fill="#222" >Nitrate</text>
<circle cx="85.6" cy="914.5" r="3.3" fill="#8fd04f"/>
<text x="121.2" y="918.3" font-size="10.6" font-weight="normal" font-style="normal" text-anchor="middle" fill="#222" >Nitrite</text>
<circle cx="85.6" cy="927.7" r="3.3" fill="#a04ca6"/>
<text x="121.2" y="931.5" font-size="10.6" font-weight="normal" font-style="normal" text-anchor="middle" fill="#222" >Ammonia</text>
<text x="113" y="1037" font-size="14.5" font-weight="bold" text-anchor="middle">Temperature</text>
<text x="113" y="1054.5" font-size="14.5" font-weight="bold" text-anchor="middle">(°Celsius)</text>
</svg>
</body></html>
